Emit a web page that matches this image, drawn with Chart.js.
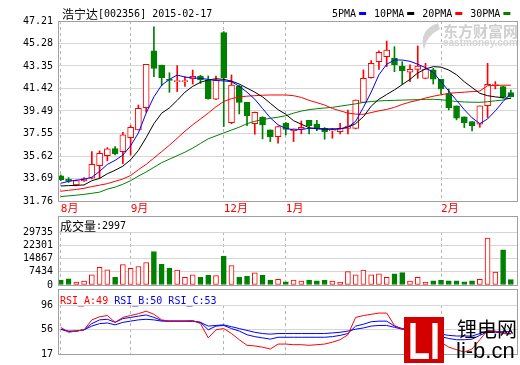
<!DOCTYPE html>
<html>
<head>
<meta charset="utf-8">
<script src="https://cdn.jsdelivr.net/npm/chart.js@4.4.1/dist/chart.umd.min.js"></script>
<style>
  html, body { margin: 0; padding: 0; background: #fff; }
  #wrap { position: relative; width: 520px; height: 365px; overflow: hidden; }
  canvas { position: absolute; left: 0; }
</style>
</head>
<body>
<div id="wrap">
  <canvas id="price-chart" width="520" height="216" style="top:0"></canvas>
  <canvas id="volume-chart" width="520" height="80" style="top:216px"></canvas>
  <canvas id="rsi-chart" width="520" height="76" style="top:289px"></canvas>
</div>
<script>
const RED = "#ff0000";
const GREEN = "#008000";
const BLUE = "#0000ff";
const BLACK = "#000000";
const GRID = "#d6d6d6";
const FRAME = "#a0a0a0";
const DASH = "#b4b4b4";
const MONO = '"DejaVu Sans Mono", monospace';
const CJK = '"Noto Sans CJK SC", sans-serif';

// month marks sit on these candle positions
const monthIndex = [0, 9, 21, 29, 49];
const monthLabels = ["8月", "9月", "12月", "1月", "2月"];
const priceTicks = [31.76, 33.69, 35.62, 37.55, 39.49, 41.42, 43.35, 45.28, 47.21];
const volumeTicks = [0, 7434, 14867, 22301, 29735];
const rsiTicks = [17, 56, 96];

const opens = [
  33.91, 33.63, 33.14, 33.49, 33.71, 34.8, 35.66, 36.25, 36.0, 37.2,
  37.86, 39.77, 44.64, 43.43, 42.2, 42.0, 42.0, 42.23, 42.49, 42.15,
  40.49, 46.21, 38.49, 41.63, 40.23, 38.4, 38.95, 37.86, 37.29, 38.43,
  37.77, 37.92, 38.69, 38.35, 38.0, 37.78, 37.72, 38.0, 38.0, 40.23,
  42.35, 43.72, 44.15, 44.01, 43.35, 42.81, 43.06, 42.29, 43.01, 42.21,
  40.95, 39.92, 38.98, 38.58, 38.35, 39.95, 41.66, 41.58, 41.06
];
const highs = [
  34.0, 33.77, 33.55, 33.78, 36.0, 36.06, 36.34, 36.43, 37.66, 38.23,
  40.0, 43.5, 46.72, 43.43, 42.77, 43.38, 42.43, 43.0, 42.55, 42.49,
  42.49, 46.3, 42.58, 41.7, 40.23, 39.4, 39.0, 37.86, 38.2, 38.5,
  37.95, 38.63, 38.69, 38.69, 38.06, 38.0, 38.43, 39.57, 40.43, 43.01,
  43.81, 44.64, 45.49, 45.01, 43.72, 43.44, 45.07, 43.58, 43.15, 42.21,
  41.38, 39.92, 38.98, 38.58, 39.92, 43.58, 42.01, 41.6, 41.29
];
const lows = [
  33.5, 33.35, 33.06, 33.43, 33.65, 33.7, 35.2, 35.72, 34.97, 35.71,
  37.86, 39.38, 42.43, 41.66, 41.09, 41.15, 41.6, 41.8, 41.85, 40.5,
  40.45, 38.15, 38.4, 39.23, 38.23, 37.49, 37.09, 36.86, 36.72, 37.43,
  36.86, 37.52, 37.52, 37.8, 37.06, 37.15, 37.52, 37.52, 37.95, 40.2,
  42.3, 43.06, 43.29, 42.86, 41.78, 42.01, 42.29, 42.25, 41.8, 40.95,
  39.58, 38.72, 38.06, 37.77, 38.09, 38.92, 41.38, 40.58, 40.7
];
const closes = [
  33.6, 33.46, 33.51, 33.69, 34.91, 35.86, 36.23, 35.83, 37.43, 38.09,
  39.72, 43.49, 43.15, 42.35, 42.1, 42.08, 42.06, 42.46, 42.15, 40.54,
  42.15, 42.35, 41.72, 40.23, 39.09, 39.37, 38.29, 37.26, 38.15, 37.91,
  37.95, 38.09, 38.23, 38.06, 37.72, 37.86, 38.0, 38.2, 40.43, 42.29,
  43.58, 44.52, 44.72, 43.44, 42.92, 43.06, 43.35, 43.09, 42.21, 41.38,
  39.78, 38.86, 38.49, 38.23, 39.92, 41.78, 41.72, 40.72, 40.72
];
const volumes = [
  2830, 3500, 1650, 2160, 5760, 9880, 8490, 4370, 11420, 9360,
  10390, 12600, 18780, 11570, 9520, 8330, 4370, 5760, 4370, 5400,
  5250, 16200, 10900, 4370, 4890, 6790, 5400, 2830, 3190, 1800,
  2830, 2160, 2830, 2310, 2830, 2160, 1650, 7460, 5760, 8330,
  5760, 6280, 4370, 6280, 6940, 2160, 4370, 1650, 2310, 2830,
  2310, 2310, 1800, 2310, 3190, 26340, 7300, 19800, 2997
];
const ma5 = [
  33.28, 33.45, 33.55, 33.62, 33.8, 34.3, 34.9, 35.25, 35.7, 36.5,
  37.6, 39.3, 40.7, 41.7, 42.2, 42.57, 42.4, 42.32, 42.29, 42.2,
  42.1, 42.07, 42.0, 41.6, 41.1, 40.5, 39.7, 38.9, 38.3, 38.0,
  37.86, 37.9, 38.0, 38.0, 37.95, 37.95, 37.95, 38.1, 38.6, 39.8,
  41.1, 42.6, 43.5, 43.86, 43.86, 43.75, 43.5, 43.2, 42.8, 42.0,
  41.2, 40.4, 39.6, 38.9, 38.4, 38.8, 39.5, 40.3, 41.0
];
const ma10 = [
  33.05, 33.08, 33.1, 33.14, 33.5, 33.7, 34.1, 34.4, 34.75, 35.3,
  36.1, 37.2, 38.4, 39.3, 39.75, 40.4, 41.1, 41.6, 41.95, 42.15,
  42.25, 42.2, 42.05, 41.8, 41.45, 41.1, 40.7, 40.15, 39.6, 39.2,
  38.65, 38.35, 38.05, 37.95, 37.92, 37.92, 37.95, 38.1, 38.4, 39.0,
  39.9, 40.5, 40.9, 41.3, 41.75, 42.2, 42.75, 43.1, 43.29, 43.25,
  43.0, 42.6, 42.0, 41.5, 41.0, 40.8, 40.7, 40.62, 40.55
];
const ma20 = [
  32.6, 32.68, 32.75, 32.85, 33.0, 33.12, 33.25, 33.45, 33.65, 33.95,
  34.45, 34.9, 35.45, 36.0, 36.55, 37.15, 37.75, 38.3, 38.8, 39.3,
  39.85, 40.3, 40.55, 40.68, 40.76, 40.8, 40.84, 40.86, 40.86, 40.86,
  40.8, 40.65, 40.4, 40.2, 40.0, 39.7, 39.5, 39.3, 39.22, 39.2,
  39.35, 39.5, 39.62, 39.8, 40.05, 40.25, 40.4, 40.6, 40.75, 40.88,
  41.0, 41.06, 41.1, 41.15, 41.2, 41.66, 41.68, 41.7, 41.7
];
const ma30 = [
  32.14, 32.2, 32.26, 32.33, 32.42, 32.52, 32.78, 32.95, 33.2, 33.5,
  33.9, 34.25, 34.65, 35.05, 35.35, 35.65, 35.95, 36.3, 36.7, 37.1,
  37.35, 37.6, 37.85, 38.1, 38.4, 38.6, 38.75, 38.86, 38.95, 39.08,
  39.3, 39.48, 39.6, 39.68, 39.74, 39.8, 39.9, 40.0, 40.1, 40.22,
  40.3, 40.35, 40.38, 40.4, 40.42, 40.44, 40.46, 40.48, 40.49, 40.45,
  40.38, 40.3, 40.26, 40.24, 40.23, 40.28, 40.36, 40.43, 40.6
];
const rsiA = [
  60, 52, 54, 56, 72, 77, 79, 68, 76, 79,
  82, 86, 81, 72, 70, 70, 70, 71, 66, 43,
  56, 58, 50, 40, 31, 30, 28, 25, 33, 33,
  32, 32, 31, 32, 33, 36, 40, 48, 76, 79,
  81, 83, 83, 63, 57, 58, 56, 54, 50, 36,
  28, 24, 20, 25, 40, 55, 54, 50, 49
];
const rsiB = [
  57, 53, 54, 56, 66, 72, 73, 68, 74, 76,
  78, 80, 76, 71, 70, 70, 70, 70, 68, 56,
  62, 63, 58, 54, 48, 45, 43, 41, 44, 44,
  44, 44, 44, 44, 44, 45, 47, 50, 62, 65,
  69, 70, 70, 62, 58, 58, 57, 55, 52, 45,
  42, 40, 40, 41, 47, 53, 52, 51, 50
];
const rsiC = [
  57, 54, 54, 56, 62, 66, 67, 64, 68, 70,
  72, 73, 72, 70, 70, 70, 70, 70, 68, 62,
  63, 64, 61, 58, 55, 52, 50, 49, 50, 50,
  50, 50, 50, 50, 50, 51, 52, 54, 57, 59,
  62, 63, 63, 60, 57, 57, 57, 56, 54, 49,
  47, 46, 46, 46, 50, 54, 53, 53, 53
];

const isUp = closes.map((c, i) => c >= opens[i]);
const points = (values) => values.map((v, i) => ({ x: i, y: v }));

function drawText(ctx, text, x, y, font, color) {
  ctx.font = font;
  ctx.fillStyle = color;
  ctx.textAlign = "left";
  ctx.textBaseline = "middle";
  ctx.fillText(text, x, y);
  return ctx.measureText(text).width;
}

function xScale(showLabels) {
  return {
    type: "linear",
    min: -0.36,
    max: 58.92,
    offset: false,
    afterBuildTicks: (scale) => {
      scale.ticks = monthIndex.map((value) => ({ value }));
    },
    afterFit: (scale) => {
      scale.height = showLabels ? 15 : 0;
    },
    grid: { color: DASH, drawTicks: false, offset: false },
    border: { display: false, dash: [3, 3] },
    ticks: {
      display: showLabels,
      autoSkip: false,
      maxRotation: 0,
      align: "start",
      padding: 2,
      color: RED,
      font: { family: MONO + ", " + CJK, size: 11 },
      callback: (value, index) => monthLabels[index],
    },
  };
}

function yScale(min, max, tickValues, format) {
  return {
    min,
    max,
    afterBuildTicks: (scale) => {
      scale.ticks = tickValues.map((value) => ({ value }));
    },
    afterFit: (scale) => {
      scale.width = 58;
    },
    grid: { color: GRID, drawTicks: false },
    border: { display: false },
    ticks: {
      autoSkip: false,
      padding: 5,
      color: BLACK,
      font: { family: MONO, size: 10 },
      callback: format,
    },
  };
}

function line(label, values, color) {
  return {
    type: "line",
    label,
    data: points(values),
    borderColor: color,
    borderWidth: 1,
    pointRadius: 0,
    tension: 0,
    fill: false,
    order: 0,
  };
}

function framePlugin(frameTop) {
  return {
    id: "frame",
    afterDraw(chart) {
      const { ctx, chartArea } = chart;
      const left = Math.round(chartArea.left) + 0.5;
      const right = Math.round(chartArea.right) - 0.5;
      const bottom = Math.round(chartArea.bottom) + 0.5;
      ctx.save();
      ctx.strokeStyle = FRAME;
      ctx.lineWidth = 1;
      ctx.strokeRect(left, frameTop + 0.5, right - left, bottom - frameTop - 0.5);
      ctx.restore();
    },
  };
}

const priceText = {
  id: "priceText",
  beforeDatasetsDraw(chart) {
    // faint eastmoney watermark
    const ctx = chart.ctx;
    ctx.save();
    ctx.fillStyle = "#d4d4d4";
    ctx.beginPath();
    ctx.moveTo(438, 23);
    ctx.quadraticCurveTo(418, 30, 424, 50);
    ctx.quadraticCurveTo(426, 36, 440, 29);
    ctx.closePath();
    ctx.fill();
    drawText(ctx, "东方财富网", 443, 31, "bold 15px " + CJK, "#cfcfcf");
    drawText(ctx, "eastmoney.com", 443, 43, "bold 10px Arial, sans-serif", "#d4d4d4");
    ctx.restore();
  },
  afterDraw(chart) {
    const ctx = chart.ctx;
    ctx.save();
    const w = drawText(ctx, "浩宁达", 62, 14, "12px " + CJK, BLACK);
    drawText(ctx, "[002356] 2015-02-17", 62 + w, 14, "10px " + MONO, BLACK);
    const legend = [
      ["5PMA", BLUE],
      ["10PMA", BLACK],
      ["20PMA", RED],
      ["30PMA", GREEN],
    ];
    let x = 332;
    legend.forEach(([name, color]) => {
      x += drawText(ctx, name, x, 14, "10px " + MONO, BLACK) + 3;
      ctx.fillStyle = color;
      ctx.fillRect(x, 12, 7, 3);
      x += 7 + 8;
    });
    ctx.restore();
  },
};

new Chart(document.getElementById("price-chart"), {
  type: "bar",
  data: {
    datasets: [
      line("5PMA", ma5, BLUE),
      line("10PMA", ma10, BLACK),
      line("20PMA", ma20, RED),
      line("30PMA", ma30, GREEN),
      {
        label: "body",
        data: opens.map((o, i) => ({ x: i, y: [o, closes[i]] })),
        barThickness: 6,
        borderWidth: 1,
        borderSkipped: false,
        minBarLength: 1,
        backgroundColor: isUp.map((u) => (u ? "#ffffff" : GREEN)),
        borderColor: isUp.map((u) => (u ? RED : GREEN)),
        grouped: false,
        order: 1,
      },
      {
        label: "wick",
        data: lows.map((l, i) => ({ x: i, y: [l, highs[i]] })),
        barThickness: 1,
        borderWidth: 0,
        backgroundColor: isUp.map((u) => (u ? RED : GREEN)),
        grouped: false,
        order: 2,
      },
    ],
  },
  options: {
    responsive: false,
    animation: false,
    events: [],
    layout: { padding: { top: 21, right: 2, bottom: 0, left: 0 } },
    plugins: { legend: { display: false }, tooltip: { enabled: false } },
    scales: {
      x: xScale(true),
      y: yScale(31.76, 47.21, priceTicks, (v) => v.toFixed(2)),
    },
  },
  plugins: [priceText, framePlugin(21)],
});

const volumeText = {
  id: "volumeText",
  afterDraw(chart) {
    const ctx = chart.ctx;
    ctx.save();
    const w = drawText(ctx, "成交量", 60, 10, "12px " + CJK, BLACK);
    drawText(ctx, ":" + volumes[volumes.length - 1], 60 + w, 10, "10px " + MONO, BLACK);
    ctx.restore();
  },
};

new Chart(document.getElementById("volume-chart"), {
  type: "bar",
  data: {
    datasets: [
      {
        label: "成交量",
        data: points(volumes),
        barThickness: 5,
        borderWidth: 1,
        borderSkipped: false,
        backgroundColor: isUp.map((u) => (u ? "#ffffff" : GREEN)),
        borderColor: isUp.map((u) => (u ? RED : GREEN)),
        grouped: false,
      },
    ],
  },
  options: {
    responsive: false,
    animation: false,
    events: [],
    layout: { padding: { top: 16, right: 2, bottom: 6, left: 0 } },
    plugins: { legend: { display: false }, tooltip: { enabled: false } },
    scales: {
      x: xScale(false),
      y: yScale(0, 29735, volumeTicks, (v) => String(v)),
    },
  },
  plugins: [volumeText, framePlugin(0)],
});

const rsiText = {
  id: "rsiText",
  afterDraw(chart) {
    const ctx = chart.ctx;
    ctx.save();
    const font = "10px " + MONO;
    let x = 60;
    const last = rsiA.length - 1;
    x += drawText(ctx, "RSI_A:" + rsiA[last] + " ", x, 12, font, RED);
    x += drawText(ctx, "RSI_B:" + rsiB[last] + " ", x, 12, font, BLUE);
    drawText(ctx, "RSI_C:" + rsiC[last], x, 12, font, BLUE);

    // li-b.cn logo in the corner
    ctx.fillStyle = "#d40000";
    ctx.fillRect(404, 28, 40, 46);
    ctx.save();
    ctx.font = "bold 52px 'Liberation Sans', Arial, sans-serif";
    const lw = ctx.measureText("LI").width;
    ctx.translate(408, 70);
    ctx.scale(32 / lw, 1);
    ctx.fillStyle = "#ffffff";
    ctx.textAlign = "left";
    ctx.textBaseline = "alphabetic";
    ctx.fillText("LI", 0, 0);
    ctx.restore();
    drawText(ctx, "锂电网", 457, 40, "20px " + CJK, BLACK);
    drawText(ctx, "li-b.cn", 456, 63, "22px 'Liberation Sans', Arial, sans-serif", BLACK);
    ctx.restore();
  },
};

new Chart(document.getElementById("rsi-chart"), {
  type: "line",
  data: {
    datasets: [
      line("RSI_A", rsiA, RED),
      line("RSI_B", rsiB, BLUE),
      line("RSI_C", rsiC, BLUE),
    ],
  },
  options: {
    responsive: false,
    animation: false,
    events: [],
    layout: { padding: { top: 16, right: 2, bottom: 3, left: 0 } },
    plugins: { legend: { display: false }, tooltip: { enabled: false } },
    scales: {
      x: xScale(false),
      y: yScale(17, 96, rsiTicks, (v) => String(v)),
    },
  },
  plugins: [framePlugin(0), rsiText],
});
</script>
</body>
</html>
